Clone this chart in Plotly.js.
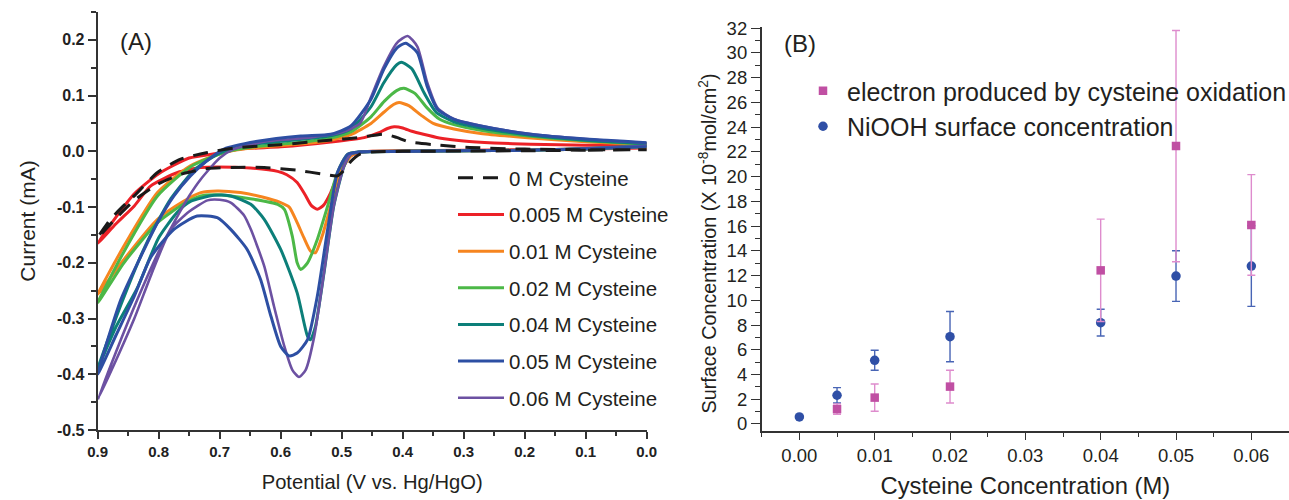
<!DOCTYPE html>
<html>
<head>
<meta charset="utf-8">
<script src="https://cdn.plot.ly/plotly-3.0.1.min.js"></script>
<style>html,body{margin:0;padding:0;background:#fff;}#chart{width:1289px;height:500px;}</style>
</head>
<body>
<div id="chart"></div>
<script>
// ---------- Panel A: cyclic voltammograms (potential V vs Hg/HgO, current mA) ----------
const cv0_E = [0.0,0.1,0.2,0.3,0.4,0.45,0.47,0.485,0.497,0.507,0.53,0.573,0.627,0.68,0.72,0.76,0.8,0.84,0.87,0.9,
               0.879,0.86,0.84,0.802,0.764,0.72,0.671,0.6,0.52,0.47,0.43,0.41,0.39,0.35,0.29,0.2,0.1,0.0];
const cv0_I = [0.003,0.002,0.001,0.0005,0.0,-0.001,-0.005,-0.018,-0.035,-0.044,-0.041,-0.034,-0.029,-0.029,-0.031,-0.04,-0.058,-0.088,-0.12,-0.155,
               -0.122,-0.1,-0.08,-0.038,-0.014,-0.002,0.0066,0.012,0.02,0.025,0.031,0.025,0.017,0.012,0.007,0.004,0.003,0.003];

const cv005_E = [0.0,0.1,0.2,0.3,0.4,0.45,0.47,0.485,0.502,0.518,0.53,0.54,0.55,0.56,0.573,0.59,0.605,0.65,0.704,0.731,0.769,0.813,0.84,0.87,0.9,
                 0.87,0.84,0.8,0.75,0.7,0.666,0.6,0.518,0.463,0.44,0.425,0.414,0.4,0.385,0.366,0.34,0.3,0.25,0.19,0.1,0.0];
const cv005_I = [0.006,0.004,0.003,0.002,0.001,0.0,-0.002,-0.008,-0.032,-0.074,-0.097,-0.104,-0.097,-0.078,-0.056,-0.042,-0.036,-0.03,-0.028,-0.029,-0.038,-0.062,-0.098,-0.13,-0.165,
                 -0.118,-0.076,-0.04,-0.012,-0.003,0.004,0.008,0.0167,0.0246,0.033,0.041,0.044,0.042,0.036,0.0305,0.024,0.0185,0.015,0.0126,0.011,0.011];

const cv01_E = [0.0,0.1,0.2,0.3,0.4,0.47,0.485,0.502,0.518,0.532,0.543,0.551,0.562,0.573,0.586,0.6,0.63,0.666,0.704,0.731,0.76,0.802,0.857,0.9,
                0.857,0.802,0.748,0.693,0.638,0.57,0.518,0.485,0.452,0.43,0.415,0.406,0.39,0.37,0.35,0.316,0.272,0.19,0.1,0.0];
const cv01_I = [0.008,0.004,0.002,0.001,0.0,-0.001,-0.008,-0.038,-0.098,-0.152,-0.182,-0.179,-0.155,-0.128,-0.1,-0.092,-0.082,-0.074,-0.071,-0.074,-0.09,-0.122,-0.194,-0.257,
                -0.17,-0.074,-0.026,-0.002,0.007,0.013,0.02,0.03,0.05,0.071,0.084,0.0875,0.082,0.065,0.05,0.04,0.032,0.024,0.017,0.012];

const cv02_E = [0.0,0.1,0.2,0.3,0.4,0.47,0.49,0.507,0.523,0.54,0.556,0.567,0.573,0.581,0.594,0.605,0.65,0.682,0.704,0.731,0.76,0.802,0.857,0.9,
                0.857,0.802,0.748,0.693,0.638,0.57,0.518,0.485,0.452,0.43,0.41,0.398,0.38,0.36,0.34,0.316,0.272,0.19,0.1,0.0];
const cv02_I = [0.008,0.004,0.002,0.001,0.0,-0.001,-0.005,-0.038,-0.098,-0.158,-0.2,-0.212,-0.2,-0.152,-0.104,-0.095,-0.085,-0.08,-0.078,-0.08,-0.095,-0.128,-0.2,-0.272,
                -0.18,-0.08,-0.028,-0.002,0.009,0.016,0.024,0.035,0.062,0.09,0.109,0.113,0.104,0.078,0.058,0.048,0.038,0.027,0.019,0.013];

const cv04_E = [0.0,0.1,0.2,0.3,0.4,0.47,0.485,0.496,0.513,0.529,0.543,0.551,0.556,0.573,0.6,0.627,0.649,0.682,0.709,0.748,0.77,0.8,0.835,0.87,0.9,
                0.86,0.82,0.78,0.74,0.7,0.65,0.6,0.518,0.485,0.452,0.431,0.41,0.402,0.385,0.365,0.345,0.316,0.272,0.19,0.1,0.0];
const cv04_I = [0.01,0.005,0.002,0.001,0.0,-0.001,-0.005,-0.026,-0.098,-0.218,-0.314,-0.338,-0.332,-0.254,-0.176,-0.122,-0.095,-0.08,-0.079,-0.09,-0.11,-0.155,-0.245,-0.315,-0.39,
                -0.27,-0.165,-0.085,-0.032,-0.003,0.012,0.018,0.028,0.04,0.08,0.123,0.155,0.16,0.148,0.105,0.07,0.053,0.042,0.029,0.02,0.014];

const cv05_E = [0.0,0.1,0.2,0.3,0.4,0.47,0.49,0.507,0.523,0.54,0.556,0.573,0.586,0.6,0.616,0.633,0.655,0.682,0.704,0.737,0.775,0.813,0.84,0.87,0.9,
                0.862,0.83,0.802,0.775,0.748,0.72,0.693,0.638,0.567,0.518,0.485,0.452,0.431,0.409,0.395,0.376,0.36,0.343,0.316,0.272,0.19,0.1,0.0];
const cv05_I = [0.008,0.004,0.002,0.001,0.0,-0.001,-0.005,-0.038,-0.14,-0.26,-0.338,-0.362,-0.367,-0.35,-0.296,-0.23,-0.176,-0.14,-0.119,-0.116,-0.14,-0.19,-0.26,-0.33,-0.40,
                -0.266,-0.19,-0.128,-0.08,-0.044,-0.016,0.004,0.018,0.0275,0.0306,0.0455,0.0935,0.147,0.186,0.194,0.177,0.117,0.0755,0.0575,0.0455,0.0306,0.022,0.0156];

const cv06_E = [0.0,0.1,0.2,0.3,0.4,0.47,0.485,0.496,0.513,0.529,0.545,0.559,0.57,0.581,0.594,0.611,0.627,0.649,0.66,0.682,0.7,0.72,0.75,0.78,0.81,0.84,0.87,0.9,
                0.87,0.835,0.8,0.775,0.75,0.731,0.7,0.677,0.622,0.55,0.5,0.47,0.452,0.431,0.409,0.392,0.376,0.36,0.343,0.316,0.272,0.19,0.1,0.0];
const cv06_I = [0.01,0.005,0.002,0.001,0.0,-0.001,-0.005,-0.026,-0.098,-0.218,-0.332,-0.392,-0.405,-0.392,-0.35,-0.278,-0.206,-0.14,-0.115,-0.092,-0.087,-0.088,-0.108,-0.14,-0.215,-0.3,-0.375,-0.446,
                -0.36,-0.266,-0.18,-0.128,-0.08,-0.05,-0.012,0.004,0.018,0.025,0.034,0.05,0.097,0.152,0.195,0.207,0.188,0.124,0.078,0.058,0.046,0.031,0.022,0.015];

const cvNames  = ['0 M Cysteine','0.005 M Cysteine','0.01 M Cysteine','0.02 M Cysteine','0.04 M Cysteine','0.05 M Cysteine','0.06 M Cysteine'];
const cvColors = ['#1a1a1a','#ec2127','#f6851f','#4cb847','#0c7f79','#2d4fa3','#6c51a2'];

const potTickVals = [0.0,0.1,0.2,0.3,0.4,0.5,0.6,0.7,0.8,0.9];
const potTickText = ['0.0','0.1','0.2','0.3','0.4','0.5','0.6','0.7','0.8','0.9'];
const curTickVals = [-0.5,-0.4,-0.3,-0.2,-0.1,0.0,0.1,0.2];
const curTickText = ['-0.5','-0.4','-0.3','-0.2','-0.1','0.0','0.1','0.2'];

// ---------- Panel B: surface concentrations (x 10^-8 mol/cm^2) ----------
const electronConc  = [0.005,0.01,0.02,0.04,0.05,0.06];
const electronVal   = [1.2,2.13,3.02,12.42,22.47,16.09];
const electronErr   = [0.42,1.1,1.32,4.14,9.35,4.07];
const nioohConc     = [0.0,0.005,0.01,0.02,0.04,0.05,0.06];
const nioohVal      = [0.57,2.32,5.15,7.06,8.19,11.96,12.77];
const nioohErr      = [0.1,0.62,0.81,2.03,1.08,2.05,3.26];

const concTickVals = [0.0,0.01,0.02,0.03,0.04,0.05,0.06];
const concTickText = ['0.00','0.01','0.02','0.03','0.04','0.05','0.06'];
const surfTickVals = [0,2,4,6,8,10,12,14,16,18,20,22,24,26,28,30,32];

// ---------- build ----------
const W = 1289, H = 500;
const px = v => v / W;
const py = v => 1 - v / H;
const FONT = 'Liberation Sans, Arial, Helvetica, sans-serif';
const INK = '#231f20';

const cvE = [cv0_E, cv005_E, cv01_E, cv02_E, cv04_E, cv05_E, cv06_E];
const cvI = [cv0_I, cv005_I, cv01_I, cv02_I, cv04_I, cv05_I, cv06_I];
const drawOrder = [1,2,3,4,6,5,0];

const traces = [];
drawOrder.forEach(k => {
  traces.push({
    type: 'scatter', mode: 'lines',
    x: cvE[k], y: cvI[k],
    name: cvNames[k],
    legendrank: k + 1,
    legendgroup: 'g' + k,
    legend: 'legend',
    line: {color: cvColors[k], width: k === 6 ? 2.6 : 3, shape: 'spline', smoothing: 0.6,
           dash: k === 0 ? '15px,10px' : 'solid'},
    xaxis: 'x', yaxis: 'y',
    hoverinfo: 'x+y+name'
  });
});

traces.push({
  type: 'scatter', mode: 'markers',
  x: nioohConc, y: nioohVal,
  name: 'NiOOH surface concentration',
  legend: 'legend2', legendrank: 2,
  marker: {symbol: 'circle', size: 9.5, color: '#2f4fa6'},
  error_y: {type: 'data', array: nioohErr, visible: true, color: '#4865b5', thickness: 1.4, width: 4},
  xaxis: 'x2', yaxis: 'y2'
});
traces.push({
  type: 'scatter', mode: 'markers',
  x: electronConc, y: electronVal,
  name: 'electron produced by cysteine oxidation',
  legend: 'legend2', legendrank: 1,
  marker: {symbol: 'square', size: 8.5, color: '#c04fa3'},
  error_y: {type: 'data', array: electronErr, visible: true, color: '#de8ccd', thickness: 1.4, width: 4},
  xaxis: 'x2', yaxis: 'y2'
});

const axLine = {showline: true, linecolor: '#333', showgrid: false, zeroline: false, ticks: 'outside', tickcolor: '#333'};

const layout = {
  width: W, height: H,
  margin: {l: 0, r: 0, t: 0, b: 0, autoexpand: false},
  paper_bgcolor: '#fff', plot_bgcolor: '#fff',
  font: {family: FONT, color: INK},
  showlegend: true,
  xaxis: Object.assign({}, axLine, {
    domain: [px(97.7), px(646.7)], anchor: 'y',
    range: [0.9, 0.0], autorange: false,
    tickmode: 'array', tickvals: potTickVals, ticktext: potTickText,
    ticklen: 7, tickwidth: 1.6, linewidth: 2,
    minor: {dtick: 0.05, tick0: 0, ticks: 'outside', ticklen: 4, tickwidth: 1.6, tickcolor: '#333'},
    tickfont: {family: FONT, size: 15, color: '#222', weight: 'bold'},
    title: {text: 'Potential (V vs. Hg/HgO)', font: {family: FONT, size: 20.2, color: INK}, standoff: 16}
  }),
  yaxis: Object.assign({}, axLine, {
    domain: [py(430), py(12)], anchor: 'x',
    range: [-0.5, 0.25], autorange: false,
    tickmode: 'array', tickvals: curTickVals, ticktext: curTickText,
    ticklen: 8, tickwidth: 1.6, linewidth: 2,
    minor: {dtick: 0.05, tick0: 0, ticks: 'outside', ticklen: 5, tickwidth: 1.6, tickcolor: '#333'},
    tickfont: {family: FONT, size: 16, color: '#222', weight: 'bold'},
    title: {text: 'Current (mA)', font: {family: FONT, size: 21, color: INK}, standoff: 16}
  }),
  xaxis2: Object.assign({}, axLine, {
    domain: [px(761.7), px(1289)], anchor: 'y2',
    range: [-0.005, 0.065], autorange: false,
    tickmode: 'array', tickvals: concTickVals, ticktext: concTickText,
    ticklen: 7, tickwidth: 1.4, linewidth: 1.6,
    minor: {dtick: 0.005, tick0: 0, ticks: 'outside', ticklen: 4, tickwidth: 1.4, tickcolor: '#333'},
    tickfont: {family: FONT, size: 18.5, color: INK},
    title: {text: 'Cysteine Concentration (M)', font: {family: FONT, size: 23.8, color: INK}, standoff: 12}
  }),
  yaxis2: Object.assign({}, axLine, {
    domain: [py(431), py(27)], anchor: 'x2',
    range: [-0.57, 32.1], autorange: false,
    tickmode: 'array', tickvals: surfTickVals,
    ticklen: 9, tickwidth: 1.4, linewidth: 1.6,
    minor: {dtick: 1, tick0: 0, ticks: 'outside', ticklen: 5, tickwidth: 1.4, tickcolor: '#333'},
    tickfont: {family: FONT, size: 18.5, color: INK}
  }),
  legend: {
    x: px(453), y: py(158), xanchor: 'left', yanchor: 'top',
    bgcolor: 'rgba(0,0,0,0)', borderwidth: 0, itemwidth: 46,
    font: {family: FONT, size: 20.5, color: INK},
    tracegroupgap: 7, traceorder: 'grouped'
  },
  legend2: {
    x: px(799), y: py(68), xanchor: 'left', yanchor: 'top',
    bgcolor: 'rgba(0,0,0,0)', borderwidth: 0, itemwidth: 38,
    font: {family: FONT, size: 25, color: INK},
    traceorder: 'normal'
  },
  annotations: [
    {text: '(A)', xref: 'paper', yref: 'paper', x: px(135.7), y: py(42), xanchor: 'center', yanchor: 'middle',
     showarrow: false, font: {family: FONT, size: 24, color: INK}},
    {text: '(B)', xref: 'paper', yref: 'paper', x: px(799.7), y: py(43.3), xanchor: 'center', yanchor: 'middle',
     showarrow: false, font: {family: FONT, size: 24, color: INK}},
    {text: 'Surface Concentration (X 10<sup>-8</sup>mol/cm<sup>2</sup>)', xref: 'paper', yref: 'paper',
     x: px(706.5), y: py(244), xanchor: 'center', yanchor: 'middle', textangle: -90,
     showarrow: false, font: {family: FONT, size: 19.8, color: INK}}
  ]
};

Plotly.newPlot('chart', traces, layout, {displayModeBar: false, responsive: false});
</script>
</body>
</html>
